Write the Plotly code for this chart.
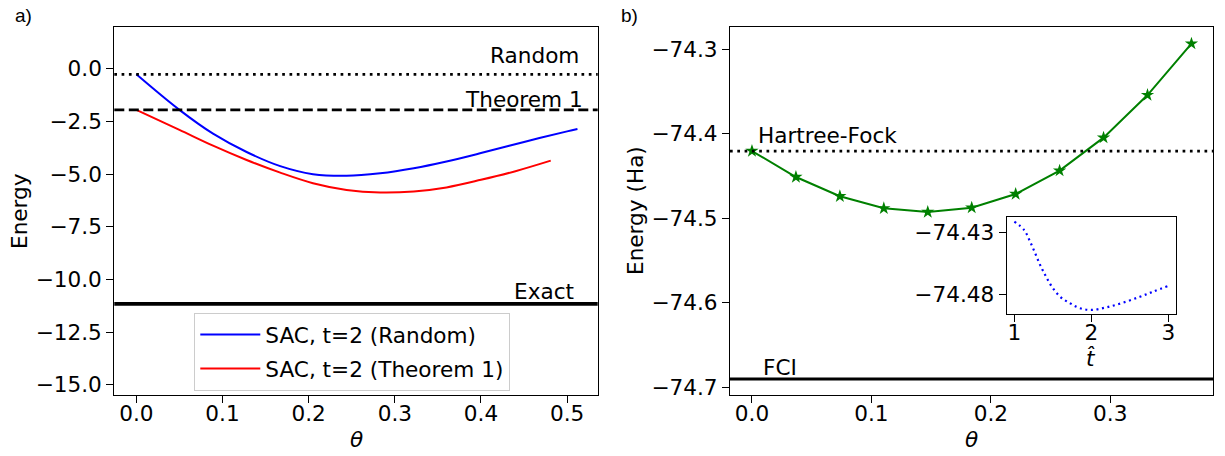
import plotly.graph_objects as go

W, H = 1225, 456
FONT = "DejaVu Sans"
FS = 21.6

# ---------------- data: panel a ----------------
theta_random = [0, 0.05, 0.089, 0.128, 0.167, 0.205, 0.244, 0.283, 0.322, 0.36, 0.4, 0.45, 0.5, 0.512]
energy_random = [-0.26, -1.95, -3.08, -3.95, -4.62, -5.0, -5.08, -4.96, -4.72, -4.40, -4.0, -3.47, -2.97, -2.86]
theta_thm = [0, 0.05, 0.089, 0.128, 0.167, 0.205, 0.244, 0.283, 0.322, 0.36, 0.4, 0.44, 0.481]
energy_thm = [-1.95, -2.90, -3.65, -4.33, -4.93, -5.43, -5.75, -5.87, -5.82, -5.63, -5.27, -4.86, -4.36]
ref_random = -0.26
ref_theorem1 = -1.95
ref_exact = -11.16
legend_names = ["SAC, t=2 (Random)", "SAC, t=2 (Theorem 1)"]

# ---------------- data: panel b ----------------
theta_b = [0.0, 0.0368, 0.0736, 0.1104, 0.1472, 0.184, 0.2208, 0.2576, 0.2944, 0.3312, 0.368]
energy_b = [-74.4206, -74.4513, -74.4741, -74.4883, -74.4927, -74.4876, -74.4714, -74.4438,
            -74.4048, -74.3544, -74.2937]
ref_hf = -74.4206
ref_fci = -74.690

# ---------------- data: inset ----------------
t_hat = [1.0, 1.126, 1.204, 1.27, 1.334, 1.4, 1.486, 1.594, 1.723, 1.853, 2.005, 2.2, 2.416, 2.632,
         2.806, 3.0]
energy_t = [-74.421, -74.4278, -74.4373, -74.4468, -74.4563, -74.4645, -74.474, -74.4822, -74.4875,
            -74.4916, -74.493, -74.4908, -74.487, -74.4822, -74.478, -74.4734]

# tick labels
a_yticks = [0.0, -2.5, -5.0, -7.5, -10.0, -12.5, -15.0]
a_yticktext = ["0.0", "\u22122.5", "\u22125.0", "\u22127.5", "\u221210.0", "\u221212.5", "\u221215.0"]
a_xticks = [0.0, 0.1, 0.2, 0.3, 0.4, 0.5]
a_xticktext = ["0.0", "0.1", "0.2", "0.3", "0.4", "0.5"]
b_yticks = [-74.3, -74.4, -74.5, -74.6, -74.7]
b_yticktext = ["\u221274.3", "\u221274.4", "\u221274.5", "\u221274.6", "\u221274.7"]
b_xticks = [0.0, 0.1, 0.2, 0.3]
b_xticktext = ["0.0", "0.1", "0.2", "0.3"]
i_yticks = [-74.43, -74.48]
i_yticktext = ["\u221274.43", "\u221274.48"]
i_xticks = [1, 2, 3]
i_xticktext = ["1", "2", "3"]


def px_x(p):
    return p / W


def px_y(p):
    return 1 - p / H


fig = go.Figure()

fig.add_trace(go.Scatter(x=theta_random, y=energy_random, mode="lines", name=legend_names[0],
                         line=dict(color="#0000ff", width=2, shape="spline"),
                         legendgroup="g1", xaxis="x", yaxis="y"))
fig.add_trace(go.Scatter(x=theta_thm, y=energy_thm, mode="lines", name=legend_names[1],
                         line=dict(color="#ff0000", width=2, shape="spline"),
                         legendgroup="g2", xaxis="x", yaxis="y"))
fig.add_trace(go.Scatter(x=theta_b, y=energy_b, mode="lines+markers", showlegend=False,
                         line=dict(color="#008000", width=2),
                         marker=dict(symbol="star", size=10, color="#008000"),
                         xaxis="x2", yaxis="y2"))
fig.add_trace(go.Scatter(x=t_hat, y=energy_t, mode="lines", showlegend=False,
                         line=dict(color="#0000ff", width=2.2, dash="2px,3.6px", shape="spline"),
                         xaxis="x3", yaxis="y3"))

axis_common = dict(showline=True, linecolor="black", linewidth=1.2, mirror=True,
                   ticks="outside", ticklen=7, tickwidth=1.2, tickcolor="black",
                   showgrid=False, zeroline=False, automargin=False,
                   tickfont=dict(family=FONT, size=FS, color="black"))
xstand = dict(ticklabelstandoff=-8)

fig.update_layout(
    width=W, height=H,
    margin=dict(l=0, r=0, t=0, b=0),
    paper_bgcolor="white", plot_bgcolor="white",
    font=dict(family=FONT, size=FS, color="black"),
    xaxis=dict(domain=[px_x(114.3), px_x(597.7)], range=[-0.0256, 0.5355],
               tickmode="array", tickvals=a_xticks, ticktext=a_xticktext, anchor="y",
               **axis_common, **xstand),
    yaxis=dict(domain=[px_y(395.3), px_y(26.7)], range=[-15.5, 2.0],
               tickmode="array", tickvals=a_yticks, ticktext=a_yticktext, anchor="x", **axis_common),
    xaxis2=dict(domain=[px_x(730), px_x(1213.3)], range=[-0.0184, 0.3863],
                tickmode="array", tickvals=b_xticks, ticktext=b_xticktext, anchor="y2",
                **axis_common, **xstand),
    yaxis2=dict(domain=[px_y(394.7), px_y(26.7)], range=[-74.7087, -74.2736],
                tickmode="array", tickvals=b_yticks, ticktext=b_yticktext, anchor="x2", **axis_common),
    xaxis3=dict(domain=[px_x(1006.7), px_x(1176)], range=[0.9, 3.1],
                tickmode="array", tickvals=i_xticks, ticktext=i_xticktext, anchor="y3",
                **axis_common, **xstand),
    yaxis3=dict(domain=[px_y(314), px_y(217.3)], range=[-74.4963, -74.4175],
                tickmode="array", tickvals=i_yticks, ticktext=i_yticktext, anchor="x3", **axis_common),
    legend=dict(x=px_x(194.3), y=px_y(313), xanchor="left", yanchor="top",
                bgcolor="rgba(255,255,255,0.8)", bordercolor="#cccccc", borderwidth=1,
                font=dict(family=FONT, size=FS, color="black"), tracegroupgap=3,
                itemwidth=60),
)

# reference lines
fig.add_shape(type="line", xref="x domain", yref="y", x0=0, x1=1, y0=ref_random, y1=ref_random,
              line=dict(color="black", width=2.7, dash="2.7px,4.6px"))
fig.add_shape(type="line", xref="x domain", yref="y", x0=0, x1=1, y0=ref_theorem1, y1=ref_theorem1,
              line=dict(color="black", width=2.7, dash="10px,4.5px"))
fig.add_shape(type="line", xref="x domain", yref="y", x0=0, x1=1, y0=ref_exact, y1=ref_exact,
              line=dict(color="black", width=3.6))
fig.add_shape(type="line", xref="x2 domain", yref="y2", x0=0, x1=1, y0=ref_hf, y1=ref_hf,
              line=dict(color="black", width=2.7, dash="2.7px,4.6px"))
fig.add_shape(type="line", xref="x2 domain", yref="y2", x0=0, x1=1, y0=ref_fci, y1=ref_fci,
              line=dict(color="black", width=3))

tf = dict(family=FONT, size=FS, color="black")
# line labels (baseline positions)
labels = [
    ("Random", "x", "y", 0.515, 0.3, "right"),
    ("Theorem 1", "x", "y", 0.52, -1.79, "right"),
    ("Exact", "x", "y", 0.509, -10.91, "right"),
    ("Hartree-Fock", "x2", "y2", 0.004, -74.4115, "left"),
    ("FCI", "x2", "y2", 0.0087, -74.685, "left"),
]
for txt, xr, yr, xv, yv, xa in labels:
    fig.add_annotation(text=txt, xref=xr, yref=yr, x=xv, y=yv, xanchor=xa, yanchor="bottom",
                       yshift=-6, showarrow=False, font=tf, borderpad=0)

# axis titles and panel labels (paper coordinates)
titles = [
    ("Energy", 19, 211, -90),
    ("Energy (Ha)", 635, 211, -90),
    ("<i>\u03b8</i>", 356, 439.7, 0),
    ("<i>\u03b8</i>", 971.7, 439.7, 0),
    ("<i>t\u0302</i>", 1091, 358, 0),
]
for txt, x, y, ang in titles:
    fig.add_annotation(text=txt, xref="paper", yref="paper", x=px_x(x), y=px_y(y),
                       xanchor="center", yanchor="middle", textangle=ang, showarrow=False, font=tf)

for txt, x, y in [("a)", 23, 15), ("b)", 630, 15)]:
    fig.add_annotation(text=txt, xref="paper", yref="paper", x=px_x(x), y=px_y(y),
                       xanchor="center", yanchor="middle", showarrow=False,
                       font=dict(family="Liberation Sans", size=19, color="black"))

fig.write_html("out.html", config={"displayModeBar": False},
               post_script="document.body.style.margin='0px';")
